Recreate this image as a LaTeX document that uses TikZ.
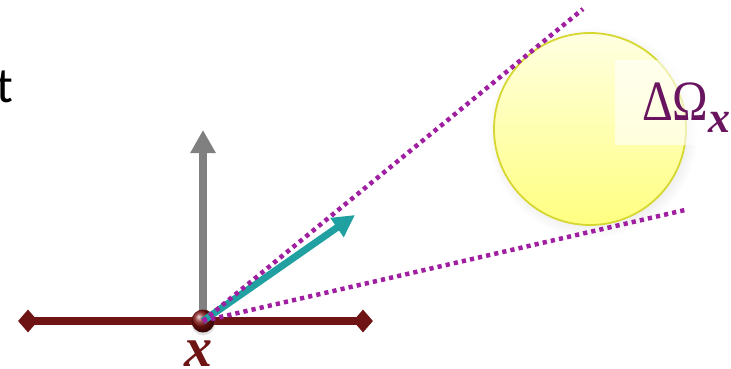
\documentclass[tikz,border=0pt]{standalone}
\usepackage{fontspec}
\setmainfont{Liberation Serif}
\newfontfamily\calib{Carlito}
\usetikzlibrary{arrows.meta,shapes.geometric,shadows}
\definecolor{dkred}{RGB}{110,20,20}
\definecolor{tealc}{RGB}{32,160,160}
\definecolor{grayc}{RGB}{128,128,128}
\definecolor{dotc}{RGB}{160,30,160}
\definecolor{labc}{RGB}{105,20,95}
\definecolor{sunedge}{RGB}{215,215,50}
\definecolor{suntop}{RGB}{255,255,225}
\definecolor{sunbot}{RGB}{255,255,130}
\tikzset{
  endmark/.style={diamond,fill=dkred,draw=none,minimum width=20pt,minimum height=23pt,inner sep=0pt},
  beam/.style={dotc,line width=4.5pt,dash pattern=on 4.2pt off 4.1pt},
  ballpt/.style={circle,minimum size=23pt,inner sep=0pt,shading=ball,ball color=dkred!85!red,
     circular drop shadow={shadow xshift=0pt,shadow yshift=-2pt,opacity=0.25}},
  sun/.style={circle,minimum size=192pt,inner sep=0pt,draw=sunedge,line width=1.8pt,
     top color=suntop,bottom color=sunbot,
     circular drop shadow={shadow xshift=2pt,shadow yshift=-3pt,opacity=0.15}},
}
\begin{document}
\begin{tikzpicture}[x=1pt,y=-1pt]
\useasboundingbox (0,0) rectangle (731,368);
% left cut-off text
\node[anchor=base east,inner sep=0pt,font=\calib\fontsize{50}{56}\selectfont] (tt) at (13,102) {t};
% sun
\node[sun] (S) at (590,129) {};
\fill[white,opacity=0.6] (615,60) rectangle (731,145);
\node[anchor=base west,inner sep=0pt,text=labc] (lab) at (642,120)
  {\scalebox{0.84}[1]{\fontsize{57}{60}\selectfont ΔΩ}\raisebox{-12pt}{\fontsize{44}{46}\selectfont\bfseries\itshape x}};
% point and surface
\coordinate (X) at (203,321);
\coordinate (up) at (203,130);
\coordinate (dir) at (355,215);
\coordinate (b1) at (583,9);
\coordinate (b2) at (685,210);
\draw[grayc,line width=8pt,-{Triangle[length=23pt,width=24pt]}] (X) -- (up);
\node[endmark] (L) at (28,321) {};
\node[endmark] (R) at (363,321) {};
\draw[dkred,line width=7.5pt] (L.center) -- (R.center);
\node[ballpt] (P) at (X) {};
\draw[tealc,line width=7pt,-{Triangle[length=22pt,width=22pt]}] (X) -- (dir);
\draw[beam] (X) -- (b1);
\draw[beam] (X) -- (b2);
\node[anchor=base,inner sep=0pt,text=dkred,font=\fontsize{56}{58}\selectfont\bfseries\itshape] (xl) at (198,366) {x};
\end{tikzpicture}
\end{document}
